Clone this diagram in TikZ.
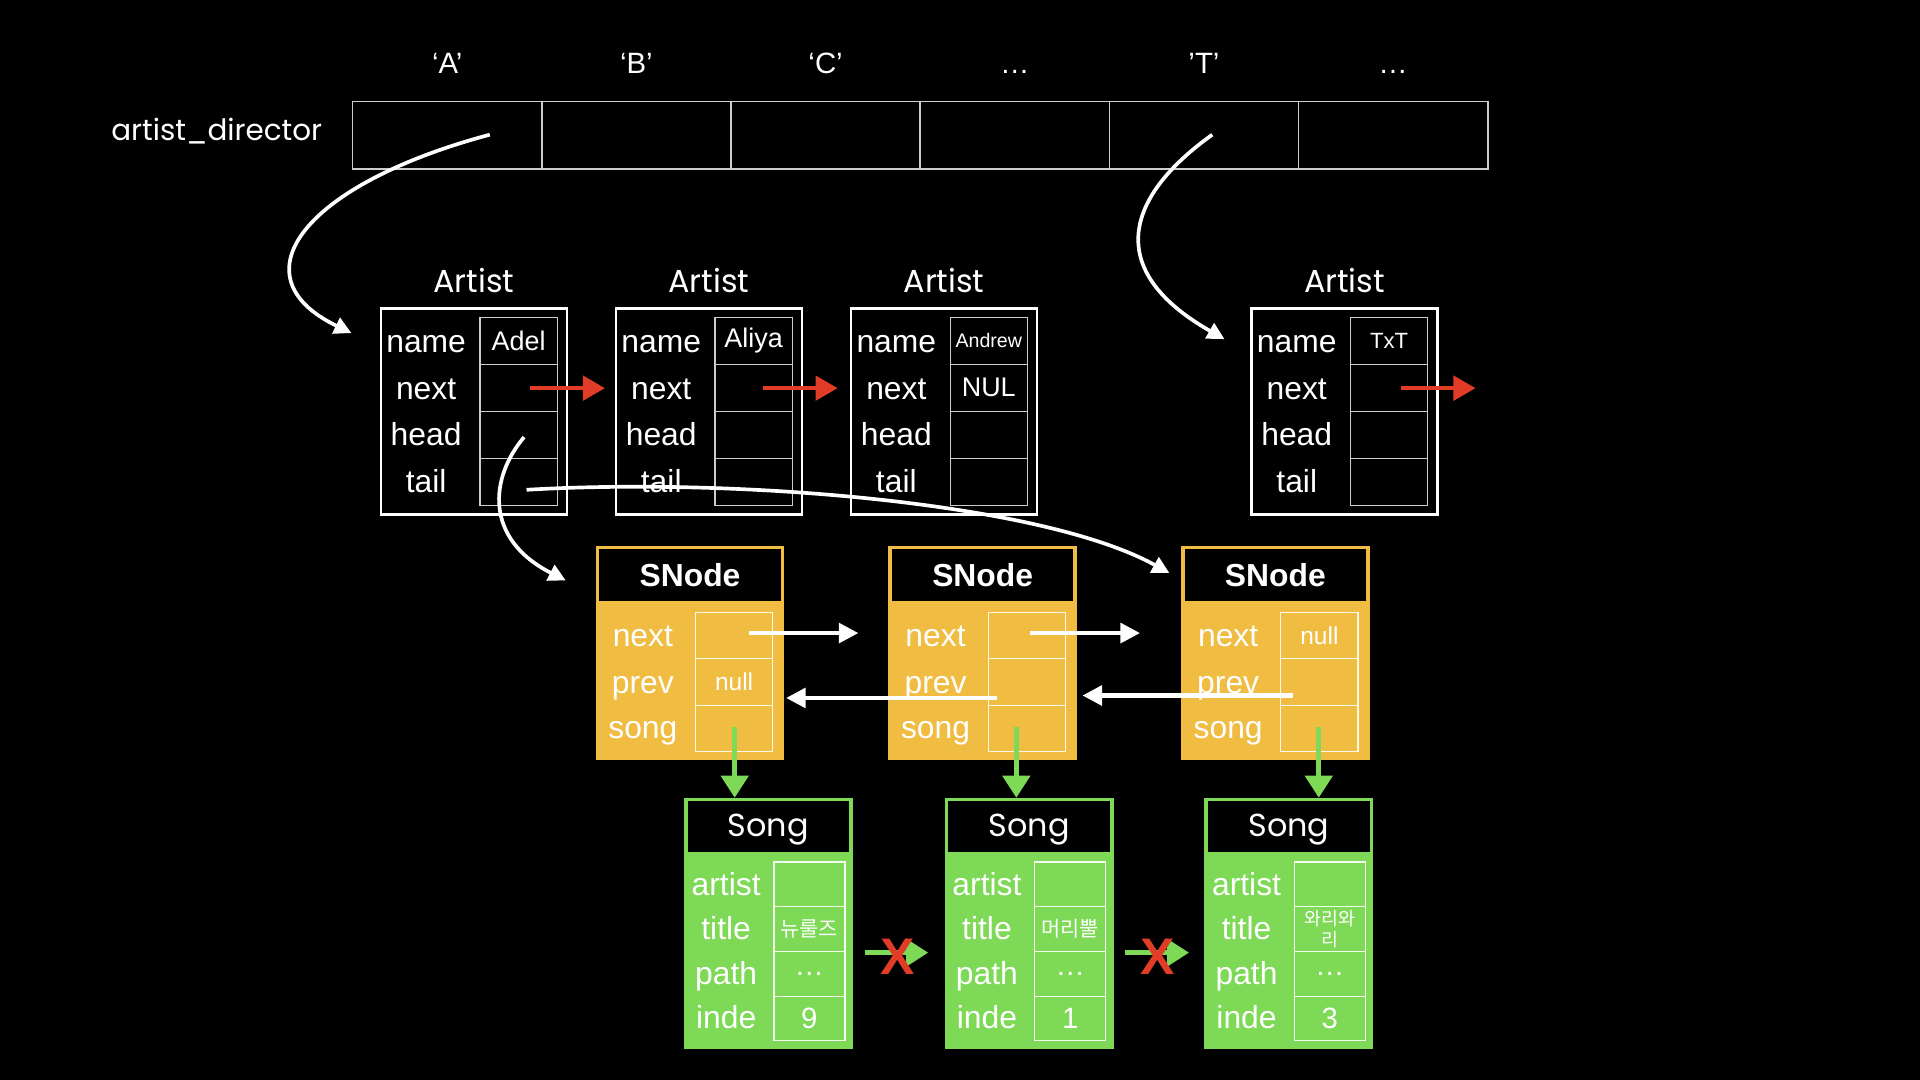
\documentclass[tikz,border=0pt]{standalone}
\usepackage{fontspec}
\setmainfont{Liberation Sans}
\newfontfamily\titlefont{Poppins}
\newfontfamily\kofont{Noto Sans CJK KR}
\usetikzlibrary{arrows.meta}
\definecolor{sorange}{RGB}{240,188,66}
\definecolor{sgreen}{RGB}{126,217,87}
\definecolor{ared}{RGB}{224,60,40}
\tikzset{
  fs/.style={font=\fontsize{#1}{#1}\selectfont},
  lbl/.style={text=white, inner sep=0, fs=26, text height=23pt, text depth=5pt},
  ttl/.style={text=white, inner sep=0, font=\titlefont\fontsize{26}{28}\selectfont},
  val/.style={text=white, inner sep=0},
  arrcell/.style={draw=white!80!black, line width=1.2pt, minimum width=154.5pt, minimum height=55pt, inner sep=0},
  abox/.style={draw=white, line width=2pt, minimum width=152pt, minimum height=168pt, inner sep=0},
  acell/.style={draw=white!80!black, line width=1pt, minimum width=63pt, minimum height=38.5pt, inner sep=0, text=white},
  sbox/.style={draw=sorange, fill=sorange, line width=3pt, minimum width=151pt, minimum height=172pt, inner sep=0},
  shead/.style={draw=sorange, fill=black, line width=3pt, minimum width=151pt, minimum height=45pt, inner sep=0, text=white, font=\bfseries\fontsize{26}{28}\selectfont},
  scell/.style={draw=white!90!sorange, line width=1pt, minimum width=63pt, minimum height=38pt, inner sep=0, text=white},
  gbox/.style={draw=sgreen, fill=sgreen, line width=3pt, minimum width=135pt, minimum height=202pt, inner sep=0},
  ghead/.style={draw=sgreen, fill=black, line width=3pt, minimum width=135pt, minimum height=44pt, inner sep=0, text=white, font=\titlefont\fontsize{26}{28}\selectfont},
  gcell/.style={draw=white!90!sgreen, line width=1pt, minimum width=58pt, minimum height=36.5pt, inner sep=0, text=white},
  warrow/.style={draw=white, line width=3.5pt, -{Triangle[length=16pt,width=16pt]}},
  wcurve/.style={draw=white, line width=3pt, -{Triangle[length=14pt,width=14pt]}},
  rarrow/.style={draw=ared, line width=3pt, -{Triangle[length=18pt,width=20pt]}},
  garrow/.style={draw=sgreen, line width=4pt, -{Triangle[length=18pt,width=22pt]}},
  redx/.style={text=ared, inner sep=0, font=\bfseries\fontsize{42}{42}\selectfont},
}
\newcommand\artistbox[4]{%
  \node[ttl] (#1t) at (#2+76,229) {Artist};
  \node[abox] (#1) at (#2+76,336) {};
  \node[acell] (#1name) at (#2+112.5,278.25) {#3};
  \node[acell] (#1next) at (#2+112.5,316.75) {#4};
  \node[acell] (#1head) at (#2+112.5,355.25) {};
  \node[acell] (#1tail) at (#2+112.5,393.75) {};
  \node[lbl] (#1l1) at (#2+37,279) {name};
  \node[lbl] (#1l2) at (#2+37,317) {next};
  \node[lbl] (#1l3) at (#2+37,355) {head};
  \node[lbl] (#1l4) at (#2+37,393) {tail};
}
\newcommand\snodebox[4]{%
  \node[sbox] (#1) at (#2+75.5,533) {};
  \node[shead] (#1t) at (#2+75.5,469.5) {SNode};
  \node[scell] (#1next) at (#2+111.5,519) {#3};
  \node[scell] (#1prev) at (#2+111.5,557) {#4};
  \node[scell] (#1song) at (#2+111.5,595) {};
  \node[lbl] (#1l1) at (#2+37,519) {next};
  \node[lbl] (#1l2) at (#2+37,557) {prev};
  \node[lbl] (#1l3) at (#2+37,594) {song};
}
\newcommand\songbox[4]{%
  \node[gbox] (#1) at (#2+67.5,754) {};
  \node[ghead, text height=20pt, text depth=3pt] (#1t) at (#2+67.5,675) {Song};
  \node[gcell] (#1artist) at (#2+101,722.25) {};
  \node[gcell] (#1title) at (#2+101,758.75) {#3};
  \node[gcell] (#1path) at (#2+101,795.25) {\fontsize{24}{24}\selectfont …};
  \node[gcell] (#1inde) at (#2+101,831.75) {\fontsize{24}{24}\selectfont #4};
  \node[lbl] (#1l1) at (#2+33,722) {artist};
  \node[lbl] (#1l2) at (#2+33,758) {title};
  \node[lbl] (#1l3) at (#2+33,795) {path};
  \node[lbl] (#1l4) at (#2+33,831) {inde};
}
\begin{document}
\begin{tikzpicture}[x=1pt,y=-1pt]
\useasboundingbox (0,0) rectangle (1568,882);
\fill[black] (0,0) rectangle (1568,882);
% array
\node[ttl, font=\titlefont\fontsize{24}{26}\selectfont] (adir) at (177,107) {artist\_director};
\foreach \i/\t in {1/‘A’,2/‘B’,3/‘C’,4/…,5/’T’,6/…}{
  \node[arrcell] (c\i) at ({288+154.5*(\i-0.5)},110.5) {};
  \node[val, fs=24, anchor=base] (k\i) at ({288+154.5*(\i-0.5)},60) {\t};
}
% artists
\artistbox{a1}{311}{\fontsize{22}{22}\selectfont Adel}{}
\artistbox{a2}{503}{\fontsize{22}{22}\selectfont Aliya}{}
\artistbox{a3}{695}{\fontsize{16}{16}\selectfont Andrew}{\fontsize{22}{22}\selectfont NUL}
\artistbox{a4}{1022}{\fontsize{18}{18}\selectfont TxT}{}
% snodes
\snodebox{s1}{488}{}{\fontsize{20}{20}\selectfont null}
\snodebox{s2}{727}{}{}
\snodebox{s3}{966}{\fontsize{20}{20}\selectfont null}{}
% songs
\songbox{g1}{560}{\kofont\fontsize{17}{17}\selectfont 뉴룰즈}{9}
\songbox{g2}{773}{\kofont\fontsize{17}{17}\selectfont 머리뿔}{1}
\songbox{g3}{985}{\kofont\fontsize{15}{16}\selectfont\shortstack{와리와\\리}}{3}
% coordinates for connectors
\coordinate (p0) at (400,110);
\coordinate (p1) at (287,272);
\coordinate (q0) at (990,110);
\coordinate (q1) at (1000,277);
\coordinate (h0) at (428,357);
\coordinate (h1) at (462,474);
\coordinate (t0) at (430,400);
\coordinate (t1) at (955,468);
\draw[wcurve] (p0) .. controls (250,150) and (190,225) .. (p1);
\draw[wcurve] (q0) .. controls (920,160) and (900,220) .. (q1);
\draw[wcurve] (h0) .. controls (400,390) and (395,440) .. (h1);
\draw[wcurve] (t0) .. controls (600,390) and (850,410) .. (t1);
% red arrows
\coordinate (r1s) at (433,317); \coordinate (r1e) at (494,317);
\coordinate (r2s) at (623,317); \coordinate (r2e) at (684,317);
\coordinate (r3s) at (1144,317); \coordinate (r3e) at (1205,317);
\draw[rarrow] (r1s) -- (r1e);
\draw[rarrow] (r2s) -- (r2e);
\draw[rarrow] (r3s) -- (r3e);
% white next / prev arrows
\coordinate (n1s) at (612,517); \coordinate (n1e) at (701,517);
\coordinate (n2s) at (841,517); \coordinate (n2e) at (931,517);
\coordinate (v1s) at (814,570); \coordinate (v1e) at (642,570);
\coordinate (v2s) at (1056,568); \coordinate (v2e) at (884,568);
\draw[warrow] (n1s) -- (n1e);
\draw[warrow] (n2s) -- (n2e);
\draw[warrow] (v1s) -- (v1e);
\draw[warrow] (v2s) -- (v2e);
% green arrows
\coordinate (d1s) at (600,594); \coordinate (d2s) at (830,594); \coordinate (d3s) at (1077,594);
\draw[garrow] (d1s) -- (g1t.north -| d1s);
\draw[garrow] (d2s) -- (g2t.north -| d2s);
\draw[garrow] (d3s) -- (g3t.north -| d3s);
\coordinate (e1s) at (706,778); \coordinate (e1e) at (758,778);
\coordinate (e2s) at (919,778); \coordinate (e2e) at (971,778);
\draw[garrow] (e1s) -- (e1e);
\draw[garrow] (e2s) -- (e2e);
\node[redx] (x1) at (733,781) {X};
\node[redx] (x2) at (945,781) {X};
\end{tikzpicture}
\end{document}
